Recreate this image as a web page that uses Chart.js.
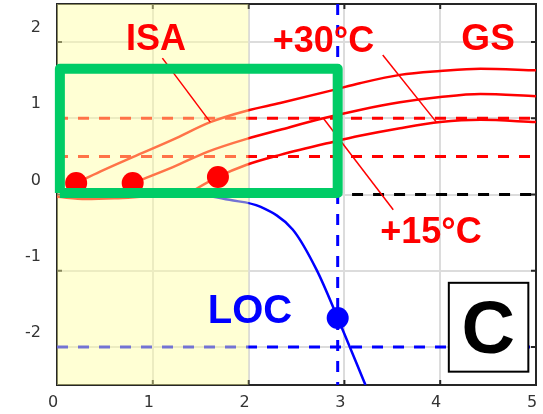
<!DOCTYPE html>
<html>
<head>
<meta charset="utf-8">
<script src="https://cdn.jsdelivr.net/npm/chart.js@4/dist/chart.umd.min.js"></script>
<style>
body { margin: 0; background: #fff; }
</style>
</head>
<body>
<canvas id="chart" width="543" height="414"></canvas>
<script>
// performance curves (ISA, +15°C, +30°C)
var isaX = [0.2, 0.45, 0.79, 1.21, 1.6, 1.98, 2.33, 2.88, 3.16, 3.58, 4.0, 4.42, 5.0],
    isaY = [0.15, 0.3, 0.49, 0.72, 0.95, 1.1, 1.2, 1.37, 1.46, 1.57, 1.62, 1.65, 1.63],
    t15X = [0.79, 1.21, 1.57, 1.98, 2.33, 2.78, 3.16, 3.58, 4.0, 4.42, 5.0],
    t15Y = [0.15, 0.36, 0.56, 0.73, 0.85, 1.0, 1.11, 1.21, 1.28, 1.32, 1.29],
    t30X = [1.35, 1.68, 1.98, 2.33, 2.88, 3.16, 3.58, 4.0, 4.42, 5.0],
    t30Y = [0.0, 0.23, 0.39, 0.52, 0.69, 0.77, 0.87, 0.95, 0.98, 0.95],
    baseX = [0, 0.3, 0.6, 1.0, 1.5],
    baseY = [-0.03, -0.06, -0.05, -0.02, 0],
    locX = [1.5, 1.8, 2.12, 2.46, 2.71, 2.93, 3.22],
    locY = [0, -0.07, -0.16, -0.46, -0.99, -1.62, -2.5];

// start points and LOC point
var dotX = [0.2, 0.79, 1.68],
    dotY = [0.15, 0.15, 0.23],
    locDotX = [2.93],
    locDotY = [-1.62];

// reference lines
var redLevels = [1.0, 0.5],
    zeroLevel = 0,
    zeroStart = 3.08,
    limitX = 2.93,
    locLevel = -2.0;

// green window and yellow band
var boxX = [0.03, 0.03, 2.93, 2.93, 0.03],
    boxY = [0.02, 1.65, 1.65, 0.02, 0.02],
    bandX = [0, 2];

// leader lines
var isaLeadX = [1.1, 1.6], isaLeadY = [1.79, 0.95],
    t30LeadX = [3.4, 3.96], t30LeadY = [1.83, 0.95],
    t15LeadX = [2.78, 3.51], t15LeadY = [1.0, -0.2];

// axes
var xTicks = [0, 1, 2, 3, 4, 5],
    yTicks = [-2, -1, 0, 1, 2];
var xMin = 0, xMax = 5, yMin = -2.5, yMax = 2.5;

function pts(xs, ys) {
    return xs.map(function (x, i) { return { x: x, y: ys[i] }; });
}

function line(data, color, width, order, extra) {
    var d = {
        data: data,
        showLine: true,
        borderColor: color,
        backgroundColor: color,
        borderWidth: width,
        pointRadius: 0,
        fill: false,
        order: order
    };
    for (var k in extra) d[k] = extra[k];
    return d;
}

var dash = [11, 10];
var datasets = [
    // green window on top
    line(pts(boxX, boxY), '#00cc66', 10, 0, { borderJoinStyle: 'round', clip: false }),
    // points
    { data: pts(dotX, dotY), showLine: false, pointRadius: 11, pointBackgroundColor: '#ff0000', pointBorderWidth: 0, order: 1 },
    { data: pts(locDotX, locDotY), showLine: false, pointRadius: 11, pointBackgroundColor: '#0000ff', pointBorderWidth: 0, order: 1 },
    // leaders
    line(pts(isaLeadX, isaLeadY), '#ff0000', 1.5, 2),
    line(pts(t30LeadX, t30LeadY), '#ff0000', 1.5, 2),
    line(pts(t15LeadX, t15LeadY), '#ff0000', 1.5, 2),
    // yellow band, drawn over the curves
    line(pts(bandX, [yMax, yMax]), 'rgba(255,255,160,0.45)', 0, 3, { fill: 'start' }),
    // curves
    line(pts(isaX, isaY), '#ff0000', 2.5, 4, { cubicInterpolationMode: 'monotone' }),
    line(pts(t15X, t15Y), '#ff0000', 2.5, 4, { cubicInterpolationMode: 'monotone' }),
    line(pts(t30X, t30Y), '#ff0000', 2.5, 4, { cubicInterpolationMode: 'monotone' }),
    line(pts(baseX, baseY), '#ff0000', 2.5, 4, { cubicInterpolationMode: 'monotone' }),
    line(pts(locX, locY), '#0000ff', 2.5, 4, { cubicInterpolationMode: 'monotone' }),
    // dashed reference lines
    line(pts([xMin, xMax], [redLevels[0], redLevels[0]]), '#ff0000', 3, 5, { borderDash: dash }),
    line(pts([xMin, xMax], [redLevels[1], redLevels[1]]), '#ff0000', 3, 5, { borderDash: dash }),
    line(pts([zeroStart, xMax], [zeroLevel, zeroLevel]), '#000000', 3, 5, { borderDash: dash }),
    line(pts([limitX, limitX], [yMax, yMin]), '#0000ff', 3, 5, { borderDash: dash }),
    line(pts([xMin, xMax], [locLevel, locLevel]), '#0000ff', 3, 5, { borderDash: dash })
];

// text annotations in data coordinates (alphabetic baseline)
var notes = [
    { text: 'ISA', x: 1.033, y: 1.895, color: '#ff0000', size: 36 },
    { text: '+30°C', x: 2.782, y: 1.869, color: '#ff0000', size: 36 },
    { text: 'GS', x: 4.5, y: 1.895, color: '#ff0000', size: 37 },
    { text: '+15°C', x: 3.904, y: -0.634, color: '#ff0000', size: 36 },
    { text: 'LOC', x: 2.015, y: -1.683, color: '#0000ff', size: 40 }
];
var badge = { text: 'C', x0: 4.09, x1: 4.92, y0: -1.159, y1: -2.325, tx: 4.5, ty: -2.076, size: 74 };

var framePlugin = {
    id: 'frame',
    beforeDatasetsDraw: function (chart) {
        var ctx = chart.ctx, a = chart.chartArea,
            xs = chart.scales.x, ys = chart.scales.y, tl = 5;
        ctx.save();
        ctx.strokeStyle = '#262626';
        ctx.lineWidth = 2;
        ctx.strokeRect(a.left, a.top, a.right - a.left, a.bottom - a.top);
        ctx.beginPath();
        xs.ticks.forEach(function (t) {
            var px = xs.getPixelForValue(t.value);
            ctx.moveTo(px, a.bottom); ctx.lineTo(px, a.bottom - tl);
            ctx.moveTo(px, a.top); ctx.lineTo(px, a.top + tl);
        });
        ys.ticks.forEach(function (t) {
            var py = ys.getPixelForValue(t.value);
            ctx.moveTo(a.left, py); ctx.lineTo(a.left + tl, py);
            ctx.moveTo(a.right, py); ctx.lineTo(a.right - tl, py);
        });
        ctx.stroke();
        ctx.restore();
    },
    afterDatasetsDraw: function (chart) {
        var ctx = chart.ctx, xs = chart.scales.x, ys = chart.scales.y;
        ctx.save();
        ctx.textAlign = 'center';
        ctx.textBaseline = 'alphabetic';
        notes.forEach(function (n) {
            ctx.font = 'bold ' + n.size + 'px "Liberation Sans", Arial, sans-serif';
            ctx.fillStyle = n.color;
            ctx.fillText(n.text, xs.getPixelForValue(n.x), ys.getPixelForValue(n.y));
        });
        var bx = xs.getPixelForValue(badge.x0), by = ys.getPixelForValue(badge.y0),
            bw = xs.getPixelForValue(badge.x1) - bx, bh = ys.getPixelForValue(badge.y1) - by;
        ctx.fillStyle = '#ffffff';
        ctx.fillRect(bx, by, bw, bh);
        ctx.strokeStyle = '#000000';
        ctx.lineWidth = 2;
        ctx.strokeRect(bx, by, bw, bh);
        ctx.font = 'bold ' + badge.size + 'px "Liberation Sans", Arial, sans-serif';
        ctx.fillStyle = '#000000';
        ctx.fillText(badge.text, xs.getPixelForValue(badge.tx), ys.getPixelForValue(badge.ty));
        ctx.restore();
    }
};

function setTicks(values) {
    return function (scale) {
        scale.ticks = values.map(function (v) { return { value: v }; });
    };
}

function fitTo(w, h) {
    return function (s) {
        if (w) s.width = w;
        if (h) s.height = h;
        s.paddingTop = 0;
        s.paddingBottom = 0;
        s.paddingLeft = 0;
        s.paddingRight = 0;
    };
}

function drawChart() {
    var tickFont = { family: 'DejaVu Sans', size: 16 };
    new Chart(document.getElementById('chart'), {
        type: 'scatter',
        data: { datasets: datasets },
        options: {
            responsive: false,
            animation: false,
            layout: { autoPadding: false, padding: { top: 4, right: 7, left: 0, bottom: 0 } },
            plugins: { legend: { display: false }, tooltip: { enabled: false } },
            scales: {
                x: {
                    type: 'linear', min: xMin, max: xMax,
                    afterBuildTicks: setTicks(xTicks),
                    ticks: { padding: 8, labelOffset: -4, color: '#333', font: tickFont },
                    grid: { color: '#dcdcdc', lineWidth: 2, drawTicks: false },
                    border: { display: false },
                    afterFit: fitTo(0, 29)
                },
                y: {
                    type: 'linear', min: yMin, max: yMax,
                    afterBuildTicks: setTicks(yTicks),
                    ticks: { padding: 16, labelOffset: -14, color: '#333', font: tickFont },
                    grid: { color: '#dcdcdc', lineWidth: 2, drawTicks: false },
                    border: { display: false },
                    afterFit: fitTo(57, 0)
                }
            }
        },
        plugins: [framePlugin]
    });
}

window.onload = function () {
    drawChart();
};
</script>
</body>
</html>
